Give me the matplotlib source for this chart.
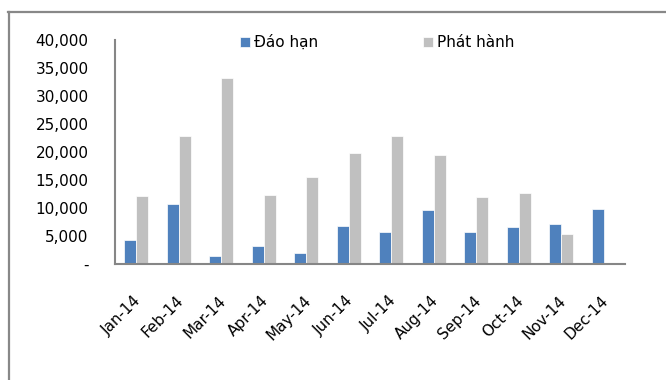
import matplotlib
matplotlib.use("Agg")
import matplotlib.pyplot as plt
from matplotlib.lines import Line2D
from matplotlib.transforms import ScaledTranslation
import numpy as np

months = ["Jan-14", "Feb-14", "Mar-14", "Apr-14", "May-14", "Jun-14",
          "Jul-14", "Aug-14", "Sep-14", "Oct-14", "Nov-14", "Dec-14"]
dao_han = [4200, 10700, 1500, 3300, 1900, 6700, 5700, 9600, 5700, 6600, 7100, 9800]
phat_hanh = [12200, 22900, 33300, 12400, 15500, 19900, 22900, 19500, 11900, 12700, 5400, 0]
y_ticks = [0, 5000, 10000, 15000, 20000, 25000, 30000, 35000, 40000]
y_tick_labels = ["-", "5,000", "10,000", "15,000", "20,000", "25,000",
                 "30,000", "35,000", "40,000"]

plt.rcParams["font.family"] = ["DejaVu Sans"]

W, H = 666, 380
fig = plt.figure(figsize=(W / 100, H / 100), dpi=100)
ax = fig.add_axes([115 / W, 1 - 264 / H, (625 - 115) / W, (264 - 40) / H])

x = np.arange(len(months))
bw = 0.28
ax.bar(x - bw / 2, dao_han, width=bw, color="#4F81BD", edgecolor="#ffffff",
       linewidth=0.5, label="Đáo hạn", zorder=2)
ax.bar(x + bw / 2, phat_hanh, width=bw, color="#C0C0C0", edgecolor="#ffffff",
       linewidth=0.5, label="Phát hành", zorder=2)

ax.set_xlim(-0.5, len(months) - 0.5)
ax.set_ylim(0, 40000)
ax.set_yticks(y_ticks)
ax.set_yticklabels(y_tick_labels)
ax.set_xticks(x)
ax.set_xticklabels(months, rotation=45, ha="right", va="top",
                   rotation_mode="anchor")
ax.tick_params(axis="y", length=0, pad=19, labelsize=11, colors="#000000")
ax.tick_params(axis="x", length=0, pad=21, labelsize=11, colors="#000000")

# nudge the rotated month labels slightly to the left
shift = ScaledTranslation(-3 / 100, 0, fig.dpi_scale_trans)
for lbl in ax.get_xticklabels():
    lbl.set_transform(lbl.get_transform() + shift)

for side in ("top", "right"):
    ax.spines[side].set_visible(False)
for side in ("left", "bottom"):
    ax.spines[side].set_color("#868686")
    ax.spines[side].set_linewidth(1.5)

ax.legend(ncol=2, loc="upper left", bbox_to_anchor=(240 / W, 1 - 35 / H),
          bbox_transform=fig.transFigure, frameon=False, fontsize=11,
          handlelength=0.65, handleheight=0.65, handletextpad=0.25,
          columnspacing=6.9, borderpad=0, borderaxespad=0)

# outer chart frame (top and left edges)
frame_kw = dict(color="#888888", linewidth=1.6, transform=fig.transFigure)
fig.add_artist(Line2D([8 / W, 1], [1 - 11.5 / H, 1 - 11.5 / H], **frame_kw))
fig.add_artist(Line2D([8.5 / W, 8.5 / W], [0, 1 - 11.5 / H], **frame_kw))

fig.savefig("out.png", dpi=100)
